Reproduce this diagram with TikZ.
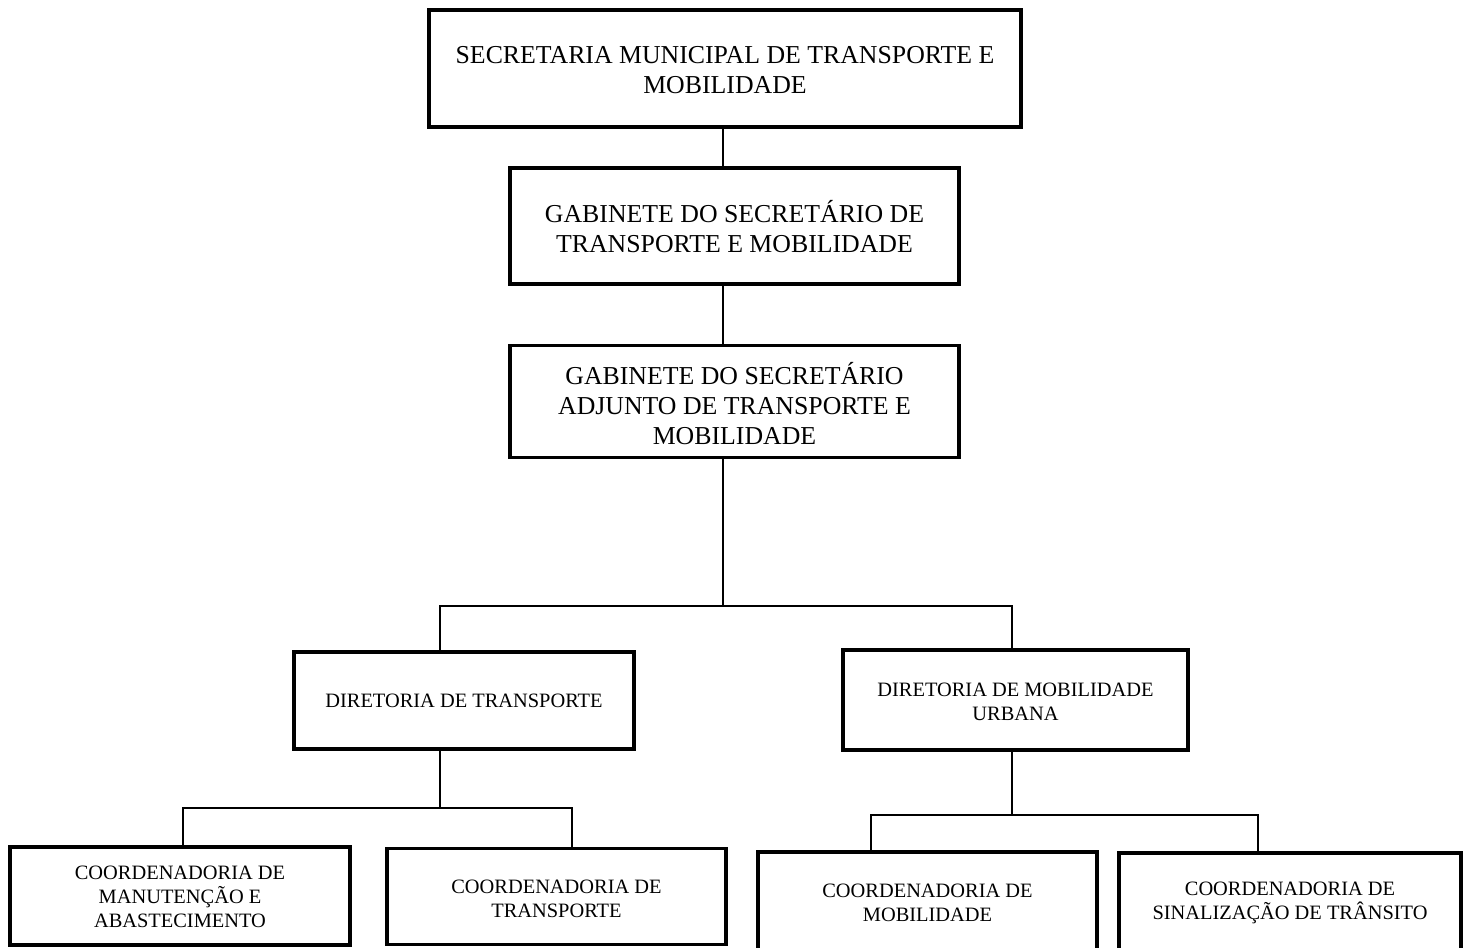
\documentclass[tikz,border=0pt]{standalone}
\usepackage{fontspec}
\setmainfont{Liberation Serif}
\begin{document}
\begin{tikzpicture}[x=0.5pt,y=-0.5pt,
  box/.style={draw, line width=1.7pt, rectangle, inner sep=0pt, outer sep=0pt},
  big/.style={font=\fontsize{12.9}{15}\selectfont, align=center},
  small/.style={font=\fontsize{10.2}{12}\selectfont, align=center},
  conn/.style={line width=0.7pt}]
\useasboundingbox (0,0) rectangle (1464,948);
% boxes
\node[box, minimum width=592*0.5pt, minimum height=117*0.5pt] (top) at (725,68.5) {};
\node[big] (toptxt) at (725,70) {SECRETARIA MUNICIPAL DE TRANSPORTE E\\MOBILIDADE};
\node[box, minimum width=449*0.5pt, minimum height=116*0.5pt] (gab) at (734.5,226) {};
\node[big] (gabtxt) at (734.5,227) {GABINETE DO SECRETÁRIO DE\\TRANSPORTE E MOBILIDADE};
\node[box, minimum width=449*0.5pt, minimum height=112*0.5pt] (adj) at (734.5,401.5) {};
\node[big] (adjtxt) at (734.5,404) {GABINETE DO SECRETÁRIO\\ADJUNTO DE TRANSPORTE E\\MOBILIDADE};
\node[box, minimum width=340*0.5pt, minimum height=97*0.5pt] (dt) at (464,700.5) {};
\node[small] (dttxt) at (464,701) {DIRETORIA DE TRANSPORTE};
\node[box, minimum width=345*0.5pt, minimum height=100*0.5pt] (dm) at (1015.5,700) {};
\node[small] (dmtxt) at (1015.5,701.5) {DIRETORIA DE MOBILIDADE\\URBANA};
\node[box, minimum width=340*0.5pt, minimum height=98*0.5pt] (cma) at (180,896) {};
\node[small] (cmatxt) at (180,897) {COORDENADORIA DE\\MANUTENÇÃO E\\ABASTECIMENTO};
\node[box, minimum width=339*0.5pt, minimum height=96*0.5pt] (ctr) at (556.5,896.5) {};
\node[small] (ctrtxt) at (556.5,899) {COORDENADORIA DE\\TRANSPORTE};
\node[box, minimum width=339*0.5pt, minimum height=120*0.5pt] (cmo) at (927.5,912) {};
\node[small] (cmotxt) at (927.5,902.5) {COORDENADORIA DE\\MOBILIDADE};
\node[box, minimum width=342*0.5pt, minimum height=120*0.5pt] (csi) at (1290,913) {};
\node[small] (csitxt) at (1290,903) {COORDENADORIA DE\\SINALIZAÇÃO DE TRÂNSITO};
% connector helper coordinates
\coordinate (spine) at (723,0);
\coordinate (bar1) at (0,606);
\coordinate (dtx) at (440,0);
\coordinate (dmx) at (1012,0);
\coordinate (bar2) at (0,808);
\coordinate (cmax) at (183,0);
\coordinate (ctrx) at (572,0);
\coordinate (bar3) at (0,815);
\coordinate (cmox) at (871,0);
\coordinate (csix) at (1258,0);
% connectors
\draw[conn] (top.south -| spine) -- (gab.north -| spine);
\draw[conn] (gab.south -| spine) -- (adj.north -| spine);
\draw[conn] (adj.south -| spine) -- (spine |- bar1);
\draw[conn] (dt.north -| dtx) -- (dtx |- bar1) -- (dmx |- bar1) -- (dm.north -| dmx);
\draw[conn] (dt.south -| dtx) -- (dtx |- bar2);
\draw[conn] (cma.north -| cmax) -- (cmax |- bar2) -- (ctrx |- bar2) -- (ctr.north -| ctrx);
\draw[conn] (dm.south -| dmx) -- (dmx |- bar3);
\draw[conn] (cmo.north -| cmox) -- (cmox |- bar3) -- (csix |- bar3) -- (csi.north -| csix);
\end{tikzpicture}
\end{document}
